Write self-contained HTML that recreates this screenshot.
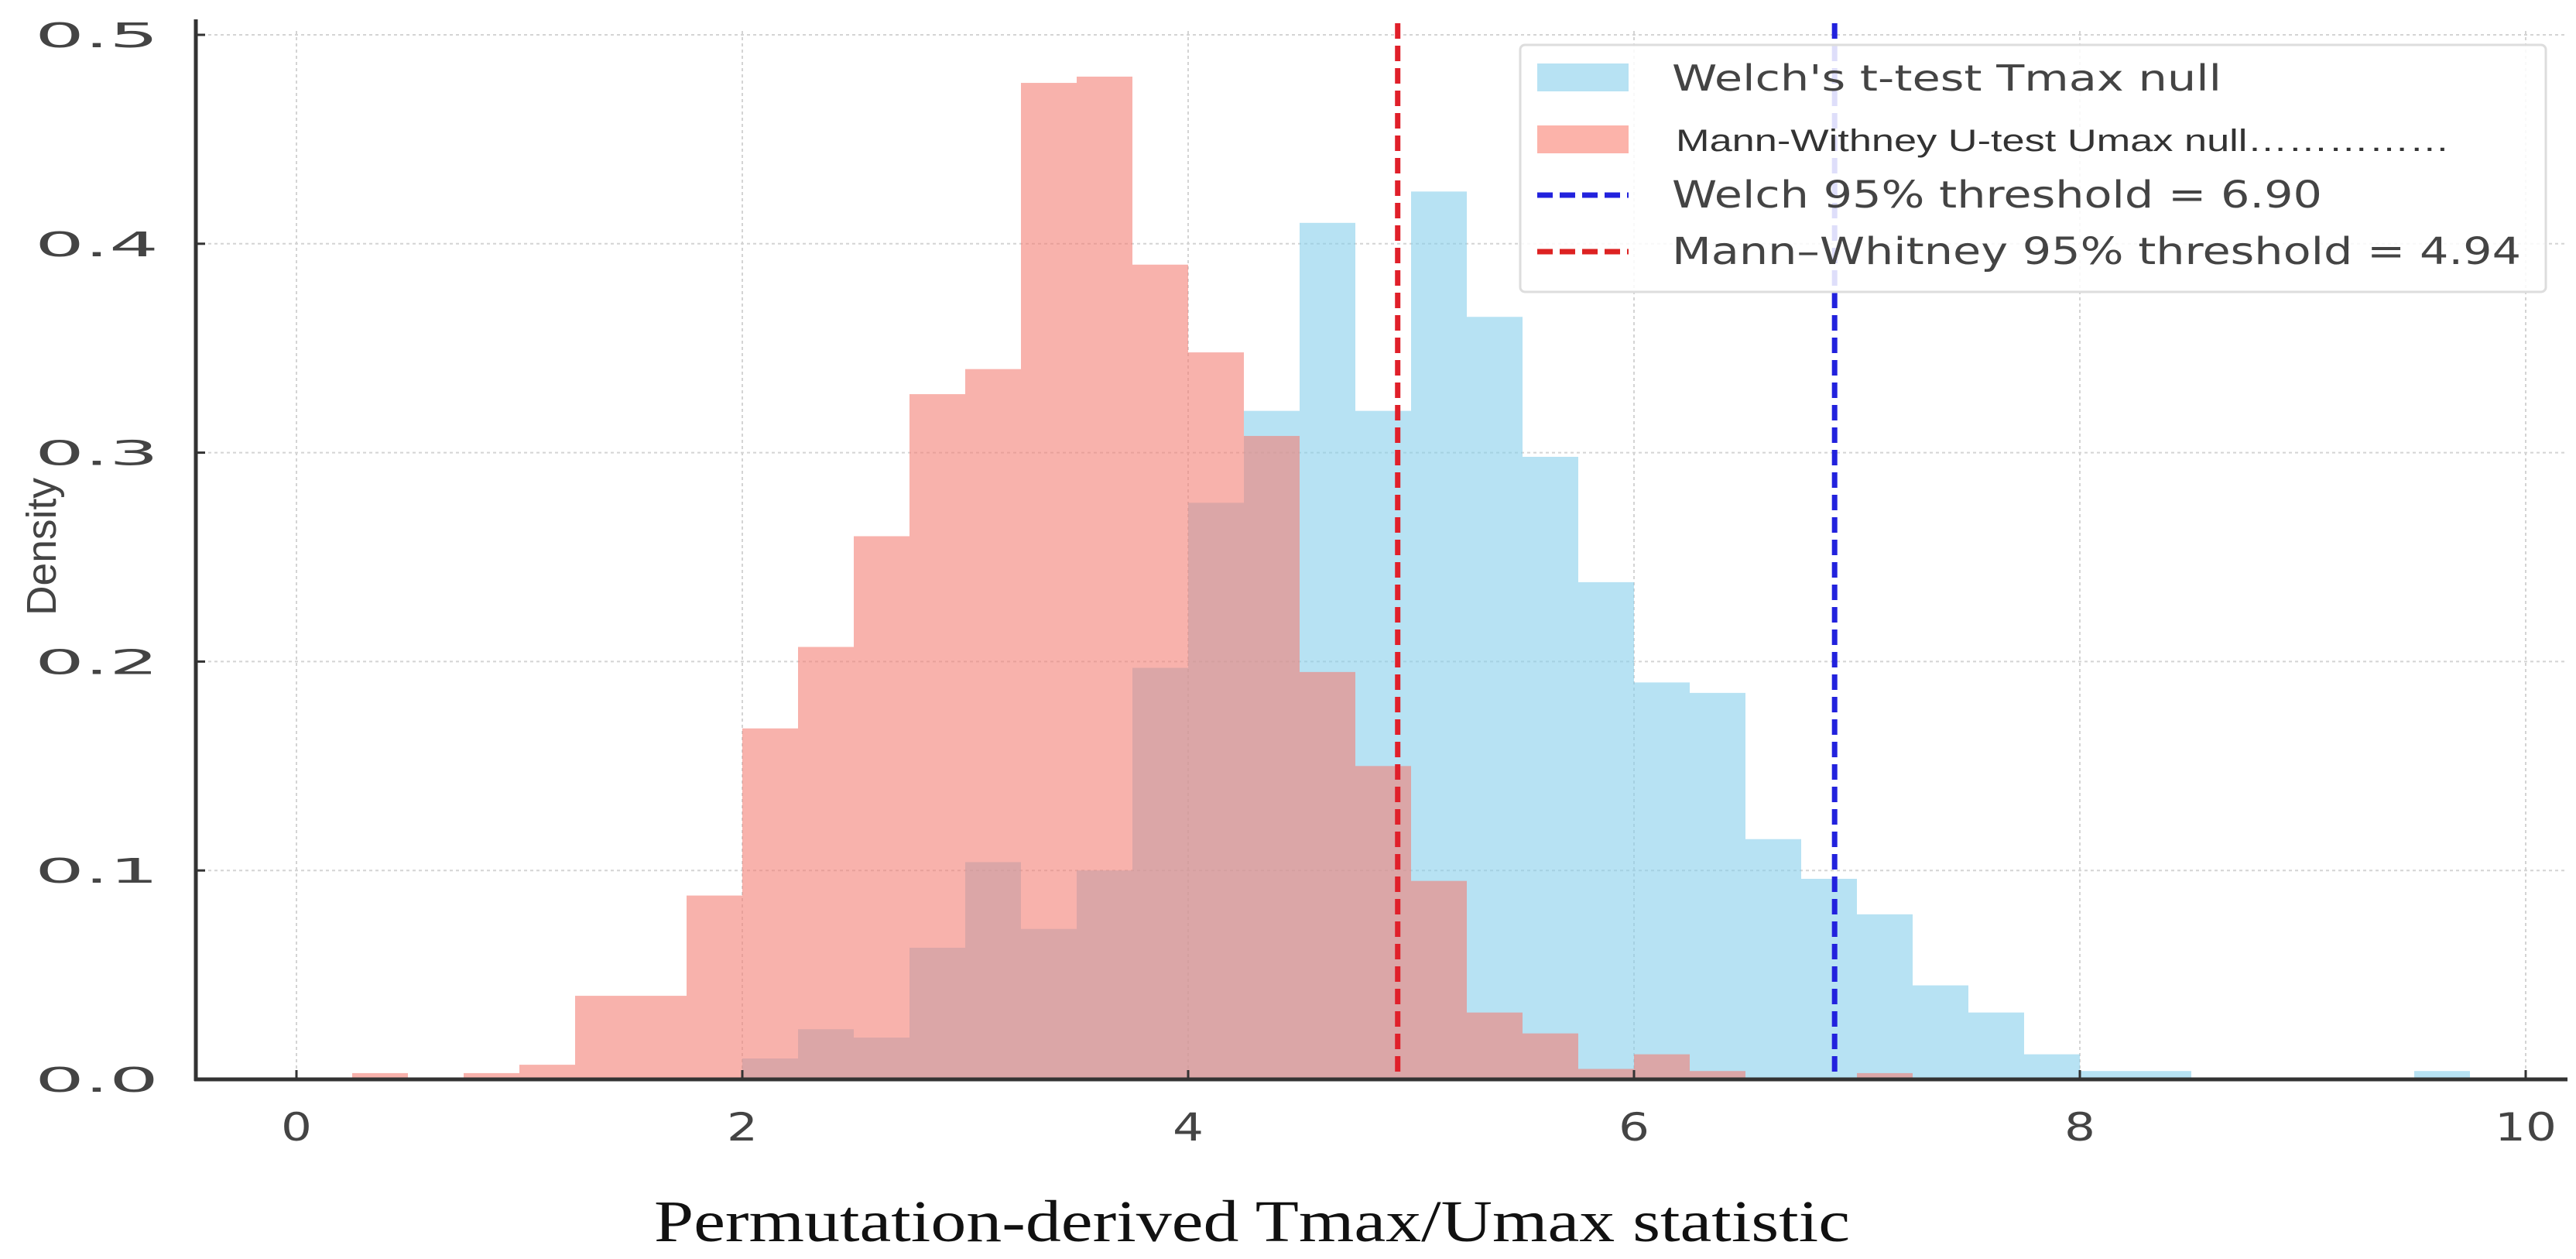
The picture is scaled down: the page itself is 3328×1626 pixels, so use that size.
<!DOCTYPE html>
<html><head><meta charset="utf-8"><style>
html,body{margin:0;padding:0;background:#fff;}
svg{display:block;}
</style></head><body>
<svg id="chart" width="3328" height="1626" viewBox="0 0 3328 1626" xmlns="http://www.w3.org/2000/svg">
<g id="grid"></g>
<g id="bars"></g>
<g id="lines"></g>
<g id="axes"></g>
<text x="0" y="0" transform="translate(72,706) rotate(-90)" text-anchor="middle" font-family="Liberation Sans Narrow, Liberation Sans, sans-serif" font-size="54" fill="#444" textLength="178" lengthAdjust="spacingAndGlyphs">Density</text>
<text x="845" y="1603" font-family="Liberation Serif, serif" font-size="76" fill="#111" textLength="1545" lengthAdjust="spacingAndGlyphs">Permutation-derived Tmax/Umax statistic</text>
<g id="legend">
<rect x="1964" y="58" width="1325" height="319" rx="6" fill="#fff" fill-opacity="0.85" stroke="#ddd" stroke-width="3"/>
<rect x="1986" y="82" width="118" height="36" fill="#87CEEB" fill-opacity="0.6"/>
<text x="2160" y="117" font-family="DejaVu Sans, sans-serif" font-size="46" fill="#444" textLength="710" lengthAdjust="spacingAndGlyphs">Welch's t-test Tmax null</text>
<rect x="1986" y="162" width="118" height="36" fill="#FA8072" fill-opacity="0.6"/>
<text x="2165" y="195" font-family="Liberation Sans Narrow, Liberation Sans, sans-serif" font-size="40" fill="#333" textLength="1000" lengthAdjust="spacingAndGlyphs">Mann-Withney U-test Umax null……………</text>
<line x1="1986" y1="252" x2="2104" y2="252" stroke="#2222dd" stroke-width="7" stroke-dasharray="20,9"/>
<text x="2160" y="268" font-family="DejaVu Sans, sans-serif" font-size="48" fill="#444" textLength="840" lengthAdjust="spacingAndGlyphs">Welch 95% threshold = 6.90</text>
<line x1="1986" y1="325" x2="2104" y2="325" stroke="#dd2222" stroke-width="7" stroke-dasharray="20,9"/>
<text x="2160" y="341" font-family="DejaVu Sans, sans-serif" font-size="48" fill="#444" textLength="1097" lengthAdjust="spacingAndGlyphs">Mann–Whitney 95% threshold = 4.94</text>
</g>
</svg>
<script>
const binWidth = 0.25;
const welchBinStarts = [2.0,2.25,2.5,2.75,3.0,3.25,3.5,3.75,4.0,4.25,4.5,4.75,5.0,5.25,5.5,5.75,6.0,6.25,6.5,6.75,7.0,7.25,7.5,7.75,8.0,8.25,9.5];
const welchDensity = [0.01,0.024,0.02,0.063,0.104,0.072,0.1,0.197,0.276,0.32,0.41,0.32,0.425,0.365,0.298,0.238,0.19,0.185,0.115,0.096,0.079,0.045,0.032,0.012,0.004,0.004,0.004];
const mwBinStarts = [0.25,0.75,1.0,1.25,1.5,1.75,2.0,2.25,2.5,2.75,3.0,3.25,3.5,3.75,4.0,4.25,4.5,4.75,5.0,5.25,5.5,5.75,6.0,6.25,7.0];
const mwDensity = [0.003,0.003,0.007,0.04,0.04,0.088,0.168,0.207,0.26,0.328,0.34,0.477,0.48,0.39,0.348,0.308,0.195,0.15,0.095,0.032,0.022,0.005,0.012,0.004,0.003];
const thresholds = [6.90, 4.94];
const xTicks = [0,2,4,6,8,10];
const yTicks = [0,0.1,0.2,0.3,0.4,0.5];
const yTickLabels = ["0.0","0.1","0.2","0.3","0.4","0.5"];

const NS = "http://www.w3.org/2000/svg";
const plotL = 253, plotR = 3317, plotT = 40, plotB = 1394;
function xs(v){ return 383 + v * 288; }
function ys(v){ return 1394 - v * 2698; }
function mk(tag, attrs, parent){ const e=document.createElementNS(NS,tag); for(const k in attrs) e.setAttribute(k,attrs[k]); parent.appendChild(e); return e; }

const grid = document.getElementById('grid');
xTicks.forEach(t=>{
  const l = mk('line',{x1:xs(t),x2:xs(t),y1:plotT,y2:plotB,stroke:'#d4d4d4','stroke-width':2,'stroke-dasharray':'4,4'},grid);
  
  
});
yTicks.forEach(t=>{
  const l = mk('line',{x1:plotL,x2:plotR,y1:ys(t),y2:ys(t),stroke:'#d4d4d4','stroke-width':2,'stroke-dasharray':'4,4'},grid);
  
  
});

const bars = document.getElementById('bars');
welchBinStarts.forEach((s,i)=>{
  const r = mk('rect',{x:xs(s),y:ys(welchDensity[i]),width:xs(s+binWidth)-xs(s),height:ys(0)-ys(welchDensity[i]),fill:'#87CEEB','fill-opacity':0.6},bars);
  
  
});
mwBinStarts.forEach((s,i)=>{
  const r = mk('rect',{x:xs(s),y:ys(mwDensity[i]),width:xs(s+binWidth)-xs(s),height:ys(0)-ys(mwDensity[i]),fill:'#F47F74','fill-opacity':0.6},bars);
  
  
});

const lines = document.getElementById('lines');
const lw = mk('line',{x1:xs(thresholds[0]),x2:xs(thresholds[0]),y1:30,y2:plotB,stroke:'#2222dd','stroke-width':7,'stroke-dasharray':'20,9'},lines);


const lm = mk('line',{x1:xs(thresholds[1]),x2:xs(thresholds[1]),y1:30,y2:plotB,stroke:'#e0202a','stroke-width':7,'stroke-dasharray':'20,9'},lines);



const axes = document.getElementById('axes');
const ya = mk('line',{x1:plotL,x2:plotL,y1:plotT-15,y2:plotB+2,stroke:'#333','stroke-width':5},axes);


const xa = mk('line',{x1:plotL-2,x2:plotR,y1:plotB,y2:plotB,stroke:'#333','stroke-width':5},axes);


xTicks.forEach(t=>{
  const tk = mk('line',{x1:xs(t),x2:xs(t),y1:plotB-12,y2:plotB,stroke:'#333','stroke-width':3},axes);
  
  
  const label = String(t);
  const tx = mk('text',{x:xs(t),y:1473,'text-anchor':'middle','font-family':'DejaVu Sans, sans-serif','font-size':50,fill:'#444',textLength:40*label.length,lengthAdjust:'spacingAndGlyphs'},axes);
  tx.textContent = label;
  
  
});
yTicks.forEach((t,i)=>{
  const tk = mk('line',{x1:plotL,x2:plotL+12,y1:ys(t),y2:ys(t),stroke:'#333','stroke-width':3},axes);
  
  
  const tx = mk('text',{x:205,y:ys(t)+16,'text-anchor':'end','font-family':'DejaVu Sans, sans-serif','font-size':44,fill:'#444',textLength:160,lengthAdjust:'spacingAndGlyphs'},axes);
  tx.textContent = yTickLabels[i];
  
  
});
</script>
</body></html>
